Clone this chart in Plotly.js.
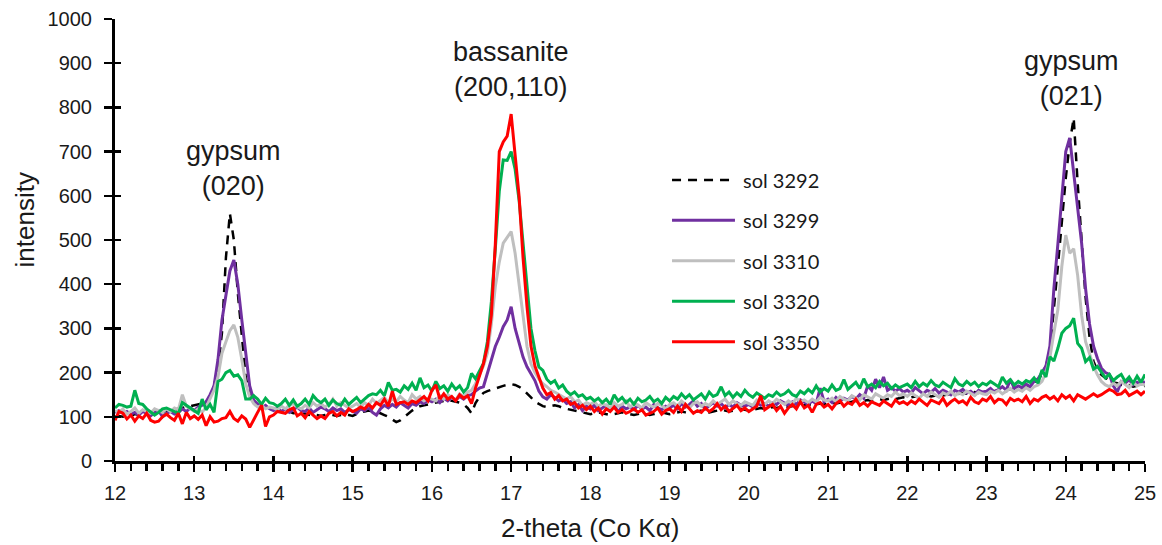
<!DOCTYPE html>
<html>
<head>
<meta charset="utf-8">
<script src="https://cdn.plot.ly/plotly-3.0.1.min.js"></script>
<style>html,body{margin:0;padding:0;background:#fff}#chart{width:1162px;height:545px}</style>
</head>
<body>
<div id="chart"></div>
<script>
// sampling grid of the diffraction scans (2-theta, degrees)
const xStart = 12;
const xStep = 0.05;

const seriesNames = ["sol 3292", "sol 3299", "sol 3310", "sol 3320", "sol 3350"];
const xTitle = "2-theta (Co Kα)";
const yTitle = "intensity";

// one row per degree: 12.00 ... 12.95, 13.00 ... ; last value at 25.00
const sol3292 = [
100,102,100,104,102,106,104,108,106,110,108,112,110,114,112,116,118,120,122,124,
126,128,130,134,145,170,210,290,460,560,500,380,280,190,150,136,128,124,120,118,
116,114,112,110,112,108,110,106,108,104,106,104,102,104,106,104,102,104,106,104,
102,106,110,112,114,112,110,108,104,100,94,88,92,100,108,114,120,124,126,128,
130,132,134,136,138,136,134,132,128,120,108,131,145,154,158,161,164,168,170,172,
174,172,168,162,154,144,134,128,124,122,124,126,124,120,118,116,114,112,110,108,
106,108,110,108,106,104,106,108,110,108,106,104,106,108,106,104,106,108,110,108,
106,108,110,112,110,108,110,112,114,112,110,112,114,116,114,112,114,116,118,116,
114,116,118,120,118,120,122,120,122,124,122,124,126,124,126,128,126,128,130,128,
130,132,130,132,134,132,134,136,134,136,138,136,138,140,138,140,142,140,142,144,
142,144,146,144,146,148,146,148,150,148,150,152,150,152,154,152,154,156,154,156,
158,156,158,160,158,160,162,164,166,164,168,170,176,184,196,215,250,340,440,540,
640,720,776,629,500,370,280,225,205,195,188,182,178,176,172,170,172,168,170,168,
170];

const sol3299 = [
110,114,108,112,106,110,104,112,108,102,110,114,100,108,112,106,110,118,112,120,
114,122,126,134,150,170,230,319,375,430,455,400,320,240,170,138,130,120,126,118,
114,120,112,118,110,116,122,114,112,120,110,116,122,118,112,120,114,118,110,116,
112,108,118,114,122,110,104,118,126,120,128,122,132,126,120,130,126,134,130,138,
134,140,132,142,136,144,138,146,140,148,150,158,165,168,200,230,259,280,304,319,
349,300,265,235,213,198,182,158,145,140,150,144,136,140,130,134,120,128,114,124,
118,126,114,120,126,118,128,110,124,118,122,116,126,118,122,114,128,120,116,124,
120,126,118,130,122,128,136,124,130,118,126,132,124,130,120,128,122,132,126,124,
128,122,134,126,130,124,132,128,136,130,126,134,128,138,132,128,136,130,165,134,
140,132,144,136,142,138,146,140,150,142,170,160,185,166,190,160,166,158,164,156,
160,154,166,158,152,160,156,164,154,160,156,150,160,156,162,154,158,150,160,156,
158,164,156,162,168,160,185,164,170,166,174,168,180,186,200,215,260,390,490,600,
700,731,650,570,493,390,310,260,232,210,200,196,170,156,180,176,184,172,178,174,
180];

const sol3310 = [
114,110,118,106,112,120,108,116,112,108,118,114,110,118,112,120,116,150,124,118,
112,118,110,122,140,160,190,244,270,295,308,280,230,175,145,130,122,126,118,122,
120,116,124,118,126,130,122,118,126,120,132,124,130,122,128,140,124,132,126,120,
124,130,122,132,126,140,130,136,144,132,140,134,146,138,132,150,140,146,136,142,
140,136,148,140,150,144,138,152,146,156,160,175,195,215,244,310,394,450,493,507,
519,470,400,320,259,220,200,185,175,168,160,156,150,144,140,146,134,138,126,132,
128,134,124,130,126,120,132,124,128,136,122,130,126,120,132,126,122,130,126,118,
128,132,124,136,128,120,130,134,124,130,126,136,128,134,140,128,136,130,126,134,
130,126,138,132,128,136,130,140,134,128,136,130,142,134,138,132,140,134,144,138,
136,142,134,146,140,136,148,142,138,150,144,140,152,146,142,150,146,156,148,152,
146,154,148,142,152,146,156,150,144,154,150,158,148,154,150,158,152,148,156,152,
150,158,154,160,152,158,164,156,162,158,166,160,168,172,180,200,235,290,342,440,
511,470,480,420,330,270,240,215,195,180,172,168,176,170,180,172,166,178,170,174,
172];

const sol3320 = [
120,128,126,122,124,160,130,128,118,112,104,110,118,120,116,112,108,132,126,120,
114,108,140,116,128,110,180,185,200,205,192,195,182,140,140,148,140,128,142,132,
130,124,130,140,126,138,124,130,140,128,148,138,132,140,126,138,130,126,140,128,
136,144,132,140,148,152,150,160,148,178,160,162,156,170,162,176,160,188,166,172,
158,180,164,170,158,174,162,170,156,166,198,186,205,221,270,360,480,610,681,680,
700,660,590,493,380,300,250,213,205,185,176,182,165,172,158,150,156,146,150,140,
144,136,142,132,140,128,150,136,144,132,140,128,142,134,138,146,134,140,130,144,
136,146,140,152,142,150,138,146,152,140,156,146,150,168,148,156,144,154,146,160,
150,144,154,148,142,150,146,156,148,152,160,150,146,158,152,162,154,170,156,164,
158,172,160,164,184,162,170,178,164,186,168,174,166,180,170,176,164,172,166,170,
174,166,180,168,176,170,182,172,168,178,172,166,186,174,170,180,172,178,168,176,
172,180,174,168,190,176,184,172,180,174,182,178,188,176,206,190,236,226,255,289,
300,306,323,266,255,225,234,208,214,200,188,196,182,190,196,180,190,176,192,178,
196];

const sol3350 = [
92,112,108,95,104,90,102,96,108,92,88,90,100,106,98,92,108,84,110,96,
102,94,104,80,100,88,90,96,98,112,96,90,102,95,76,94,110,126,78,100,
104,112,110,108,116,120,102,108,98,112,104,96,102,96,108,112,102,110,104,118,
112,116,122,118,128,120,132,126,140,124,158,128,132,134,128,136,132,140,146,136,
160,172,140,152,140,146,136,150,142,148,130,165,190,220,259,330,490,700,722,735,
785,700,600,460,349,260,215,190,165,150,155,140,148,136,140,128,132,120,126,116,
124,112,120,106,118,112,122,110,116,108,112,118,110,116,104,108,112,120,106,114,
118,110,124,112,128,118,108,114,110,120,112,118,130,116,124,112,118,126,114,120,
112,118,124,148,116,122,128,114,124,108,120,128,118,134,120,126,110,128,132,122,
128,118,130,136,124,132,128,140,126,132,124,134,130,126,136,130,124,138,130,134,
128,136,130,140,132,126,138,134,130,142,126,134,140,132,136,128,144,134,130,140,
136,146,132,140,138,128,142,136,140,134,146,130,140,136,144,148,140,146,136,150,
142,148,136,150,144,140,146,152,146,150,156,162,158,150,152,160,148,154,158,150,
158];

const peakLabels = ["gypsum<br>(020)", "bassanite<br>(200,110)", "gypsum<br>(021)"];
const peakPositions = [13.5, 17.0, 24.07];

const xTickVals = [12,13,14,15,16,17,18,19,20,21,22,23,24,25];
const yTickVals = [0,100,200,300,400,500,600,700,800,900,1000];

const allSeries = [sol3292, sol3299, sol3310, sol3320, sol3350];
const styles = [
  {color: "#000000", width: 2.5, dash: "9px,7px"},
  {color: "#7030A0", width: 3, dash: "solid"},
  {color: "#BFBFBF", width: 3, dash: "solid"},
  {color: "#00B050", width: 3, dash: "solid"},
  {color: "#FF0000", width: 3, dash: "solid"}
];

const traces = allSeries.map((ys, i) => ({
  type: "scatter", mode: "lines",
  name: seriesNames[i],
  x0: xStart, dx: xStep, y: ys,
  line: Object.assign({shape: "linear"}, styles[i]),
  hoverinfo: "skip", showlegend: false
}));
// empty trace that carries the inner half of the crossing tick marks
traces.push({type: "scatter", mode: "lines", x: [], y: [], xaxis: "x2", yaxis: "y2", showlegend: false, hoverinfo: "skip"});

const txtColor = "#1a1a1a";
const tickFont = {family: "Liberation Sans, Arial, sans-serif", size: 20, color: txtColor};
const titleFont = {family: "Liberation Sans, Arial, sans-serif", size: 26, color: txtColor};
const labelFont = {family: "Liberation Sans, Arial, sans-serif", size: 27, color: txtColor};
const legendFont = {family: "Lato, sans-serif", size: 20, color: txtColor};

const annotations = peakLabels.map((t, i) => ({
  text: t, x: peakPositions[i], xref: "x",
  y: [0.662, 0.885, 0.866][i], yref: "paper",
  xanchor: "center", yanchor: "middle", showarrow: false,
  font: labelFont
}));
annotations.push({text: xTitle, xref: "paper", yref: "paper", x: 0.461, y: -0.152,
  xanchor: "center", yanchor: "middle", showarrow: false, font: titleFont});
annotations.push({text: yTitle, xref: "paper", yref: "paper", x: -0.087, y: 0.545,
  xanchor: "center", yanchor: "middle", textangle: -90, showarrow: false, font: titleFont});

// legend box drawn as key lines + labels (long key lines like the original)
const legendTop = 0.636, legendRow = 0.0915;
const keyX0 = 0.5408, keyX1 = 0.6019, labelX = 0.6078;
const shapes = [];
seriesNames.forEach((name, i) => {
  const yy = legendTop - i * legendRow;
  shapes.push({type: "line", xref: "paper", yref: "paper", x0: keyX0, x1: keyX1, y0: yy, y1: yy,
    line: {color: styles[i].color, width: styles[i].width, dash: styles[i].dash}});
  annotations.push({text: name, xref: "paper", yref: "paper", x: labelX, y: yy,
    xanchor: "left", yanchor: "middle", showarrow: false, font: legendFont});
});

const layout = {
  width: 1162, height: 545,
  margin: {l: 115, r: 17, t: 19, b: 84, pad: 0},
  paper_bgcolor: "#ffffff", plot_bgcolor: "#ffffff",
  showlegend: false,
  xaxis: {
    range: [12, 25], tickmode: "array", tickvals: xTickVals,
    showgrid: false, zeroline: false,
    showline: true, linecolor: "#000", linewidth: 3,
    ticks: "outside", ticklen: 8, tickwidth: 2.5, tickcolor: "#000",
    minor: {dtick: 0.2, tick0: 12, ticks: "outside", ticklen: 7, tickwidth: 2.5, tickcolor: "#000", showgrid: false},
    tickfont: tickFont, ticklabelstandoff: 4
  },
  yaxis: {
    range: [0, 1000], tickmode: "array", tickvals: yTickVals,
    showgrid: false, zeroline: false,
    showline: true, linecolor: "#000", linewidth: 3,
    ticks: "outside", ticklen: 8, tickwidth: 2.5, tickcolor: "#000",
    tickfont: tickFont, ticklabelstandoff: 8
  },
  xaxis2: {
    overlaying: "x", anchor: "y", range: [12, 25], tickmode: "array", tickvals: xTickVals,
    showticklabels: false, showgrid: false, zeroline: false, showline: false,
    ticks: "inside", ticklen: 5, tickwidth: 2.5, tickcolor: "#000"
  },
  yaxis2: {
    overlaying: "y", anchor: "x", range: [0, 1000], tickmode: "array", tickvals: yTickVals,
    showticklabels: false, showgrid: false, zeroline: false, showline: false,
    ticks: "inside", ticklen: 6, tickwidth: 2.5, tickcolor: "#000"
  },
  shapes: shapes,
  annotations: annotations
};

Plotly.newPlot("chart", traces, layout, {staticPlot: true, displayModeBar: false});
</script>
</body>
</html>
